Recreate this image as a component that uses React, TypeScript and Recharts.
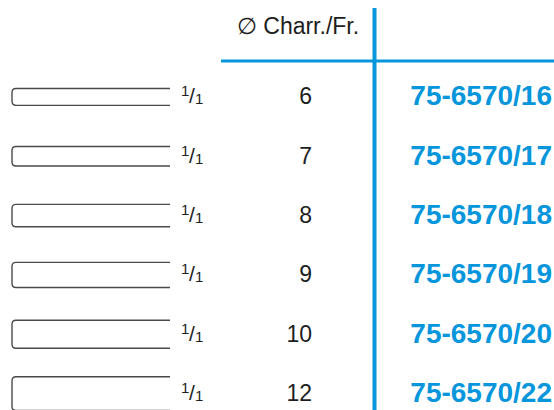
import { ComposedChart, Bar, XAxis, YAxis, LabelList, Customized } from 'recharts';

// sizes in Charrière / French, with the matching article numbers
const charr = [6, 7, 8, 9, 10, 12];
const codes = ['75-6570/16', '75-6570/17', '75-6570/18', '75-6570/19', '75-6570/20', '75-6570/22'];
const packUnit = ['1', '1', '1', '1', '1', '1'];
const headerLabel = '\u2205 Charr./Fr.';

const rows = charr.map((c, i) => ({ charr: c, code: codes[i], unit: packUnit[i] }));

const BLUE = '#0796db';
const INK = '#1e1e1e';
const FONT = '"Liberation Sans", Arial, Helvetica, sans-serif';
const PX_PER_CHARR = 2.8;

function TubeShape(props: any) {
  const { y, height, payload } = props;
  const cy = y + height / 2 + 0.5;
  const h = payload.charr * PX_PER_CHARR;
  const top = cy - h / 2;
  const bot = cy + h / 2;
  const left = 12;
  const right = 170;
  const r = 4;
  const d = `M ${right} ${top} L ${left + r} ${top} Q ${left} ${top} ${left} ${top + r} L ${left} ${bot - r} Q ${left} ${bot} ${left + r} ${bot} L ${right} ${bot}`;
  return (
    <g>
      <path d={d} fill="none" stroke="#4a4a4a" strokeWidth={1.4} />
      <text x={181} y={cy - 0.5} fontFamily={FONT} fontSize={15} fill={INK}>
        {payload.unit}
      </text>
      <text x={189} y={cy + 6.5} fontFamily={FONT} fontSize={21} fill={INK}>
        /
      </text>
      <text x={195} y={cy + 7.5} fontFamily={FONT} fontSize={15} fill={INK}>
        {payload.unit}
      </text>
    </g>
  );
}

function TableRules() {
  return (
    <g>
      <line x1={221} y1={61} x2={554} y2={61} stroke={BLUE} strokeWidth={3} />
      <line x1={374.5} y1={8} x2={374.5} y2={440} stroke={BLUE} strokeWidth={4} />
      <text x={298} y={34} textAnchor="middle" fontFamily={FONT} fontSize={23} fill={INK}>
        {headerLabel}
      </text>
    </g>
  );
}

export default function App() {
  return (
    <div style={{ position: 'absolute', left: 0, top: 0, width: 554, height: 410, overflow: 'hidden', background: '#fff' }}>
      <ComposedChart
        width={554}
        height={440}
        data={rows}
        layout="vertical"
        margin={{ top: 67, right: 0, bottom: 17, left: 0 }}
      >
        <XAxis type="number" domain={[0, 554]} hide />
        <YAxis type="category" dataKey="code" hide width={0} />
        <Customized component={TableRules} />
        <Bar dataKey="charr" shape={TubeShape} isAnimationActive={false}>
          <LabelList
            dataKey="charr"
            content={(p: any) => (
              <text x={312} y={p.y + p.height / 2 + 8} textAnchor="end" fontFamily={FONT} fontSize={23} fill={INK}>
                {p.value}
              </text>
            )}
          />
          <LabelList
            dataKey="code"
            content={(p: any) => (
              <text
                x={552}
                y={p.y + p.height / 2 + 9}
                textAnchor="end"
                fontFamily={FONT}
                fontSize={28}
                fontWeight="bold"
                fill={BLUE}
              >
                {p.value}
              </text>
            )}
          />
        </Bar>
      </ComposedChart>
    </div>
  );
}
